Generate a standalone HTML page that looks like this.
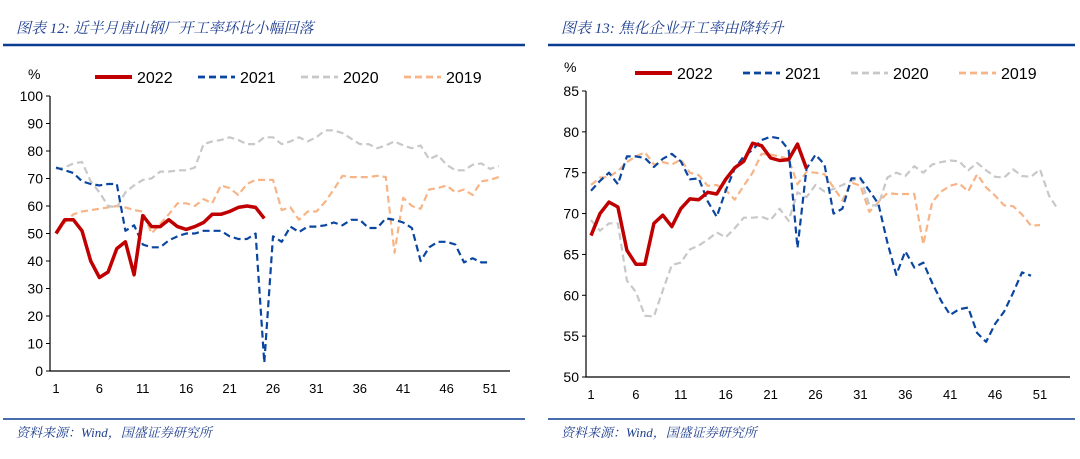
<!DOCTYPE html>
<html><head><meta charset="utf-8">
<style>
body{margin:0;width:1080px;height:459px;background:#fff;overflow:hidden;font-family:"Liberation Sans","Noto Sans CJK SC",sans-serif;}
svg{position:absolute;left:0;top:0}
</style></head>
<body>
<svg width="1080" height="459">
<g id="frame"></g>
<g id="left"></g>
<g id="right"></g>
</svg>
<script>
const weeksTicks=[1,6,11,16,21,26,31,36,41,46,51];
const leftYTicks=[0,10,20,30,40,50,60,70,80,90,100];
const rightYTicks=[50,55,60,65,70,75,80,85];
const seriesNames=["2022","2021","2020","2019"];
const L2022=[50,55,55,51,40,34,36,44.5,47,35,56.5,52.5,52.5,55,52.5,51.5,52.5,54,57,57,58,59.5,60,59.5,55.5];
const L2021=[74,73,72,69,68,67.5,68,68,51,53,46,45,45,47.5,49,50,50,51,51,51,49,48,48,50,3,49,47,52.5,50.5,52.5,52.5,53,54,53,55,55,52,52,55.5,55,54,52,40,45,47,47,46,39.5,41,39.5,39.5];
const L2020=[73.5,74,75.5,76,69,65,60,59.5,65,67.5,69.5,70,72.5,72.5,73,73,74,82.5,83.5,84,85,84,82.5,82.5,85,85,82.5,83.5,85,83.5,85,87.5,87.5,86.5,84.5,82.5,82.5,81,82,83.5,82,81,82,77,78.5,75,73,73,75,75.5,73.5,74.5];
const L2019=[50.5,54,57,58,58.5,59,59.5,60,59.5,58.5,58,50,53.5,57,61,61,60,62.5,61,67.5,66.5,64,68,69.5,69.5,69.5,58.5,59.5,55,58,58,61.5,66,71,70.5,70.5,70.5,71,70.5,43,63,60,59,66,66.5,67.5,65,66,64,69,69.5,70.5];
const R2022=[67.3,70,71.4,70.8,65.5,63.8,63.8,68.8,69.8,68.4,70.6,71.8,71.7,72.6,72.4,74.2,75.6,76.4,78.6,78.3,76.8,76.5,76.6,78.5,75.5];
const R2021=[72.8,74,75,73.6,77,77,76.8,75.7,76.7,77.3,76.4,74.2,74.3,71.5,69.6,72.8,75.5,77,77.8,79,79.4,79.2,77.8,65.8,75.5,77.2,76,70,70.6,74.3,74.3,72.8,71.2,66.5,62.5,65.4,63.4,64,61.5,59.3,57.6,58.3,58.5,55.4,54.3,56.5,58,60.3,62.8,62.4];
const R2020=[69.2,67.9,68.8,68.8,61.8,60.4,57.5,57.4,60.6,63.7,64,65.6,66.1,66.8,67.7,67.1,68.2,69.5,69.5,69.6,69.2,70.6,69.1,72.6,72,73.5,72.7,73,73.5,74,74.4,71,71,74.4,75,74.6,75.8,75,76,76.3,76.5,76.4,75.3,76.2,75.3,74.5,74.4,75.4,74.6,74.5,75.4,72.2,70.5];
const R2019=[73.5,74.4,74.5,75.2,76.3,77,77.5,76,76.3,76,76.6,75,74.7,73.4,73.5,72.9,71.7,73.4,75,77.3,77.2,77,76.7,73.6,75.1,75,74.8,73.2,71.6,73.8,73.4,70.2,71.4,72.5,72.4,72.4,72.4,66.2,71.4,72.7,73.4,73.7,72.7,74.8,73.2,72.2,71,70.9,69.9,68.5,68.6];

const NS="http://www.w3.org/2000/svg";
function mk(parent,tag,attrs,text){const e=document.createElementNS(NS,tag);for(const k in attrs)e.setAttribute(k,attrs[k]);if(text!==undefined)e.textContent=text;parent.appendChild(e);return e;}
const styles=[{c:"#c00000",w:3.5,d:""},{c:"#0a46a0",w:2.2,d:"7 4"},{c:"#c8c8c8",w:2.2,d:"7 4"},{c:"#f7b486",w:2.2,d:"7 4"}];

const frame=document.getElementById('frame');
function panelFrame(x1,x2,title,nm){
  let t=mk(frame,'text',{x:x1+13,y:33,'font-size':15,'font-style':'italic',fill:'#1f3f8f','font-family':'"Liberation Serif","Noto Serif CJK SC",serif'},title);
  
  
  let l=mk(frame,'line',{x1:x1,x2:x2,y1:45,y2:45,stroke:'#0a3d91','stroke-width':2.5});
  
  
  let l2=mk(frame,'line',{x1:x1,x2:x2,y1:419,y2:419,stroke:'#0a3d91','stroke-width':1.5});
  
  
  let s=mk(frame,'text',{x:x1+13,y:437,'font-size':13,'font-style':'italic',fill:'#1f3f8f','font-family':'"Liberation Serif","Noto Serif CJK SC",serif'},'资料来源：Wind，国盛证券研究所');
  
  
}
panelFrame(3,525,'图表 12:  近半月唐山钢厂开工率环比小幅回落','left');
panelFrame(548,1075,'图表 13:  焦化企业开工率由降转升','right');

function chart(gid,cfg,data){
  const g=document.getElementById(gid);
  const xs=w=>cfg.x1+(w-1)*cfg.dx;
  const ys=v=>cfg.y0+(v-cfg.ymin)/(cfg.ymax-cfg.ymin)*(cfg.yTop-cfg.y0);
  let ax=mk(g,'path',{d:`M${cfg.ax} ${ys(cfg.ymax)}V${cfg.y0}H${cfg.axR}`,stroke:'#000','stroke-width':1.2,fill:'none'});
  
  
  cfg.yt.forEach(v=>{
    mk(g,'line',{x1:cfg.ax-4,x2:cfg.ax,y1:ys(v),y2:ys(v),stroke:'#000'});
    let t=mk(g,'text',{x:cfg.ax-7,y:ys(v)+5,'text-anchor':'end','font-size':14,fill:'#000'},v);
    
    
  });
  weeksTicks.forEach(w=>{
    let t=mk(g,'text',{x:xs(w),y:cfg.y0+22,'text-anchor':'middle','font-size':13,fill:'#000'},w);
    
    
  });
  let u=mk(g,'text',{x:cfg.ax-22,y:cfg.unitY,'font-size':14,fill:'#000'},'%');
  
  
  [3,2,1,0].forEach(i=>{
    const st=styles[i];
    const p=mk(g,'path',{d:data[i].map((v,k)=>(k?'L':'M')+xs(k+1).toFixed(1)+' '+ys(v).toFixed(1)).join(''),stroke:st.c,'stroke-width':st.w,fill:'none','stroke-dasharray':st.d,'stroke-linejoin':'round'});
    
    
  });
  seriesNames.forEach((n,i)=>{
    const st=styles[i];const lx=cfg.legX+i*cfg.legStep;
    const lg=mk(g,'g',{});
    
    
    mk(lg,'line',{x1:lx,x2:lx+37,y1:cfg.legY,y2:cfg.legY,stroke:st.c,'stroke-width':st.w+0.5,'stroke-dasharray':st.d});
    mk(lg,'text',{x:lx+42,y:cfg.legY+6,'font-size':16,fill:'#000'},n);
  });
}
chart('left',{x1:56,dx:8.68,ax:50,axR:510,y0:371,yTop:96,ymin:0,ymax:100,yt:leftYTicks,unitY:79,legX:95,legStep:103,legY:77},[L2022,L2021,L2020,L2019]);
chart('right',{x1:591,dx:8.98,ax:586,axR:1070,y0:377,yTop:91,ymin:50,ymax:85,yt:rightYTicks,unitY:72,legX:635,legStep:108,legY:73},[R2022,R2021,R2020,R2019]);
</script>
</body></html>
